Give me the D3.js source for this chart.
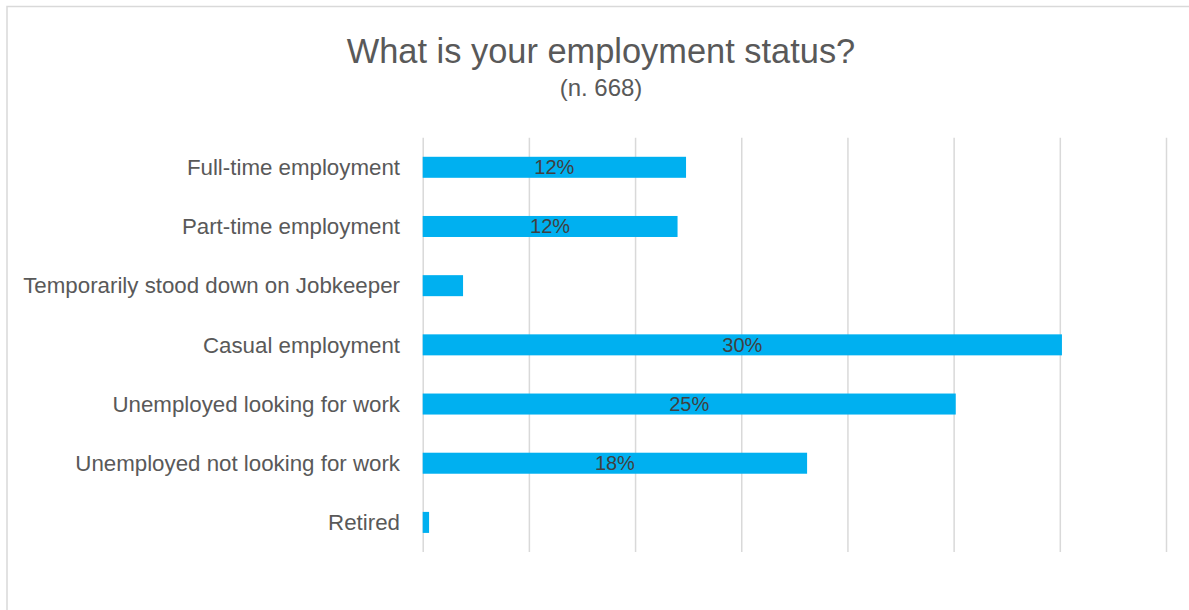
<!DOCTYPE html>
<html>
<head>
<meta charset="utf-8">
<script src="https://cdn.jsdelivr.net/npm/d3@7"></script>
<style>
  html, body { margin: 0; padding: 0; background: #ffffff; }
  svg { display: block; font-family: "Liberation Sans", Arial, sans-serif; }
</style>
</head>
<body>
<svg id="chart" width="1189" height="610"></svg>
<script>
// Survey responses: share of respondents by employment status (n = 668)
const categories = [
  "Full-time employment",
  "Part-time employment",
  "Temporarily stood down on Jobkeeper",
  "Casual employment",
  "Unemployed looking for work",
  "Unemployed not looking for work",
  "Retired"
];
const percentages = [12.4, 12.0, 1.9, 30.1, 25.1, 18.1, 0.3];
const gridTicks = [0, 5, 10, 15, 20, 25, 30, 35];
const titleText = "What is your employment status?";
const subtitleText = "(n. 668)";

const width = 1189, height = 610;
const plot = { left: 422.7, right: 1166, top: 137.7, bottom: 552 };

const svg = d3.select("#chart");

// Outer chart frame (right and bottom edges fall outside the view)
svg.append("rect")
  .attr("x", 7).attr("y", 6.5)
  .attr("width", 1200).attr("height", 620)
  .attr("fill", "#ffffff")
  .attr("stroke", "#d9d9d9")
  .attr("stroke-width", 1.5);

const x = d3.scaleLinear().domain([0, 35]).range([plot.left, plot.right]);
const y = d3.scaleBand()
  .domain(categories)
  .range([plot.top, plot.bottom])
  .paddingInner(0.645)
  .paddingOuter(0.3225);

// Vertical gridlines (the one at 0 doubles as the category axis line)
const xAxis = d3.axisBottom(x)
  .tickValues(gridTicks)
  .tickSize(-(plot.bottom - plot.top))
  .tickFormat("");
const gx = svg.append("g")
  .attr("transform", `translate(0,${plot.bottom})`)
  .call(xAxis);
gx.select(".domain").remove();
gx.selectAll(".tick line")
  .attr("stroke", "#d9d9d9")
  .attr("stroke-width", 1.5);

// Category labels
const yAxis = d3.axisLeft(y).tickSize(0).tickPadding(0);
const gy = svg.append("g")
  .attr("transform", `translate(400,0)`)
  .call(yAxis);
gy.select(".domain").remove();
gy.selectAll(".tick text")
  .attr("fill", "#595959")
  .attr("font-size", 22.3)
  .attr("font-family", "'Liberation Sans', Arial, sans-serif")
  .attr("dy", "0.35em");

const rows = categories.map((c, i) => ({ category: c, value: percentages[i] }));

// Bars
svg.append("g")
  .selectAll("rect")
  .data(rows)
  .join("rect")
  .attr("x", x(0))
  .attr("y", d => y(d.category))
  .attr("width", d => x(d.value) - x(0))
  .attr("height", y.bandwidth())
  .attr("fill", "#00b0f0");

// Value labels, centred in bars wide enough to hold them
svg.append("g")
  .selectAll("text")
  .data(rows.filter(d => d.value >= 5))
  .join("text")
  .attr("x", d => (x(0) + x(d.value)) / 2)
  .attr("y", d => y(d.category) + y.bandwidth() / 2)
  .attr("dy", "0.35em")
  .attr("text-anchor", "middle")
  .attr("fill", "#404040")
  .attr("font-size", 20)
  .text(d => `${Math.round(d.value)}%`);

// Title and sample size
svg.append("text")
  .attr("x", 601).attr("y", 63)
  .attr("text-anchor", "middle")
  .attr("fill", "#595959")
  .attr("font-size", 34.4)
  .text(titleText);

svg.append("text")
  .attr("x", 601).attr("y", 96)
  .attr("text-anchor", "middle")
  .attr("fill", "#595959")
  .attr("font-size", 24)
  .text(subtitleText);
</script>
</body>
</html>
